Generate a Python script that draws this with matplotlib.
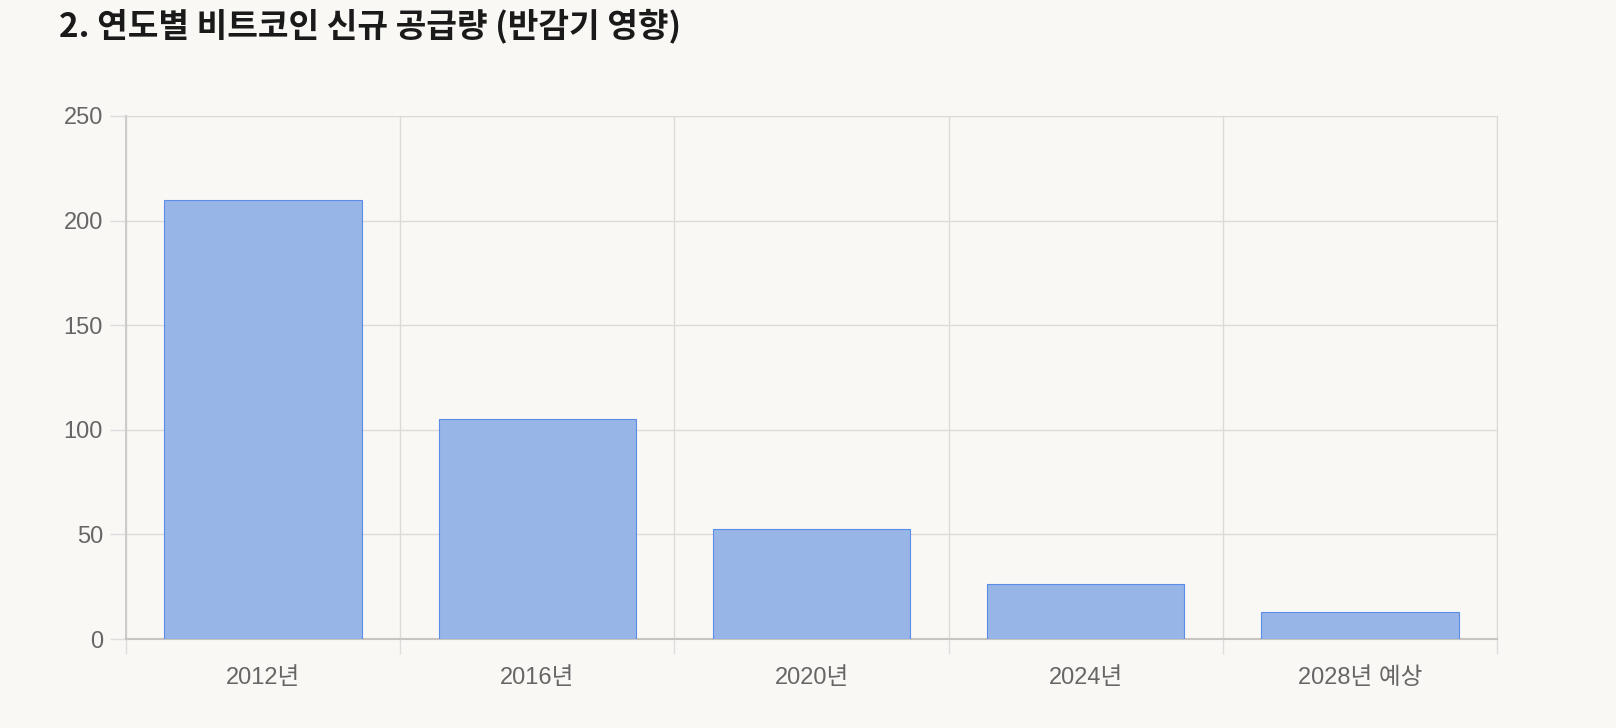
import matplotlib.pyplot as plt
import numpy as np

# -----------------------------
# Data
# -----------------------------
categories = ["2012년", "2016년", "2020년", "2024년", "2028년 예상"]
new_supply = [210, 105, 52.5, 26.25, 13.125]
y_ticks = [0, 50, 100, 150, 200, 250]

plt.rcParams['font.family'] = ['Liberation Sans', 'Noto Sans CJK KR']

bg = "#f9f8f5"
W, H = 1616, 728

fig = plt.figure(figsize=(W / 100, H / 100), dpi=100, facecolor=bg)
# plot area in pixels: left 126, right 1497, top 116, bottom 639
ax = fig.add_axes([126 / W, 1 - 639 / H, (1497 - 126) / W, (639 - 116) / H], facecolor=bg)

x = np.arange(len(categories))
ax.bar(x, new_supply, width=0.72, color="#97b5e6", edgecolor="#5b8ce8", linewidth=0.8, zorder=3)

ax.set_xlim(-0.5, len(categories) - 0.5)
ax.set_ylim(0, 250)

# x ticks on category boundaries, labels in the middle
ax.set_xticks(np.arange(-0.5, len(categories), 1.0))
ax.set_xticklabels([])
ax.set_xticks(x, minor=True)
ax.set_xticklabels(categories, minor=True, fontsize=17, color="#666666")
ax.tick_params(axis="x", which="major", length=11, color="#dddddd", width=1)
ax.tick_params(axis="x", which="minor", length=0, pad=20)

ax.set_yticks(y_ticks)
ax.set_yticklabels([str(v) for v in y_ticks], fontsize=17, color="#666666")
ax.tick_params(axis="y", length=11.5, color="#dddddd", width=1, pad=5)

ax.grid(True, which="major", color="#dedbd6", linewidth=1, zorder=0)

for side in ["top", "right"]:
    ax.spines[side].set_color("#dedbd6")
ax.spines["left"].set_color("#cccccc")
ax.spines["left"].set_linewidth(1.5)
ax.spines["bottom"].set_color("#c8c4bf")
ax.spines["bottom"].set_linewidth(1.5)

fig.text(59 / W, 1 - 26 / H, "2. 연도별 비트코인 신규 공급량 (반감기 영향)",
         fontsize=24, fontweight="bold", color="#1a1a1a", va="center", ha="left",
         family=["Noto Sans CJK KR"])

plt.savefig("out.png", dpi=100, facecolor=bg)
